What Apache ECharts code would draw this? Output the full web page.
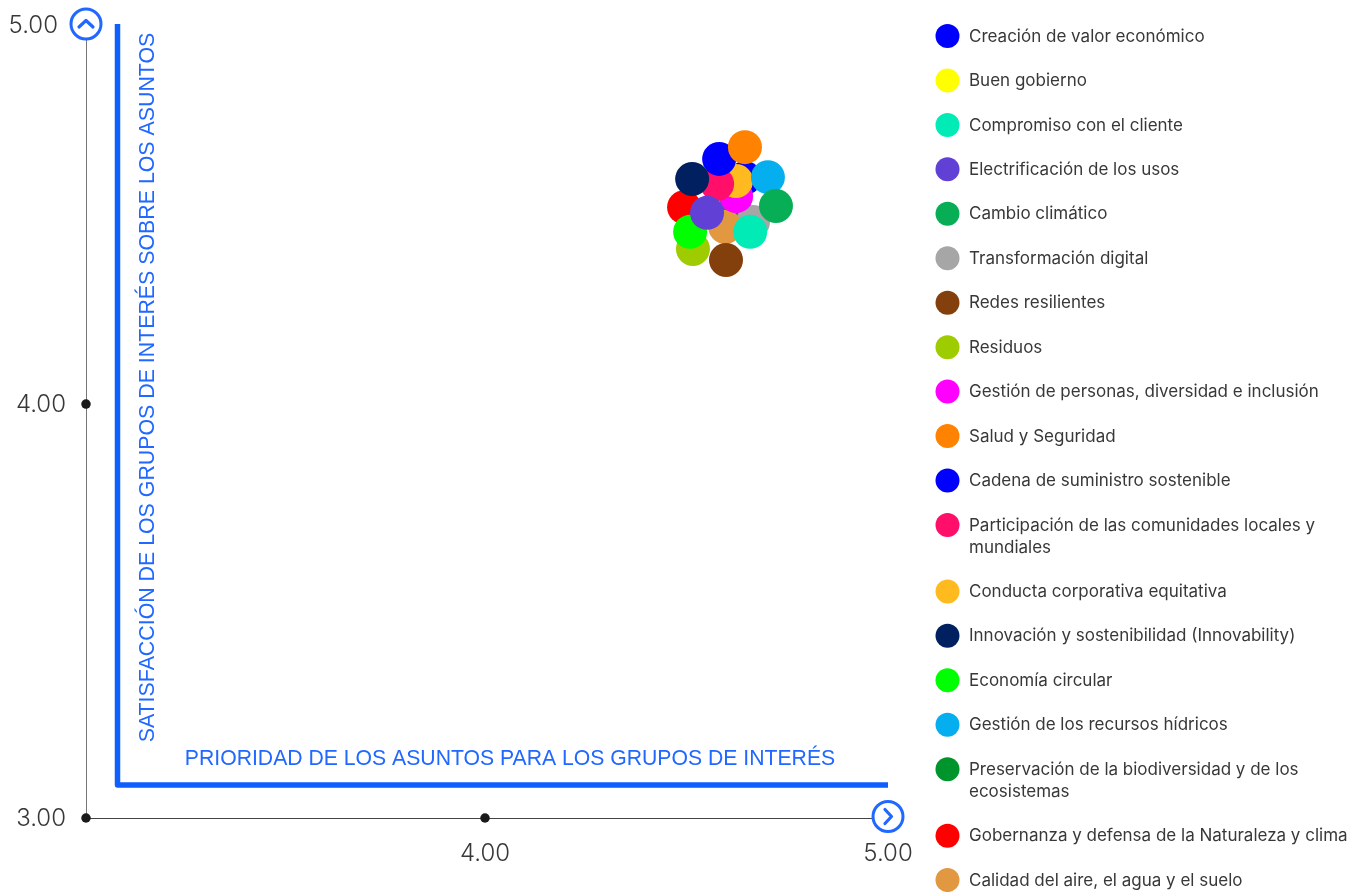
<!DOCTYPE html>
<html>
<head>
<meta charset="utf-8">
<style>
  html, body { margin: 0; padding: 0; background: #fff; }
  #chart { width: 1363px; height: 892px; }
</style>
<script src="https://cdn.jsdelivr.net/npm/echarts@6/dist/echarts.min.js"></script>
</head>
<body>
<div id="chart"></div>
<script>
const issues = [
  'Creación de valor económico', 'Buen gobierno', 'Compromiso con el cliente',
  'Electrificación de los usos', 'Cambio climático', 'Transformación digital',
  'Redes resilientes', 'Residuos', 'Gestión de personas, diversidad e inclusión',
  'Salud y Seguridad', 'Cadena de suministro sostenible',
  'Participación de las comunidades locales y\nmundiales', 'Conducta corporativa equitativa',
  'Innovación y sostenibilidad (Innovability)', 'Economía circular',
  'Gestión de los recursos hídricos', 'Preservación de la biodiversidad y de los\necosistemas',
  'Gobernanza y defensa de la Naturaleza y clima', 'Calidad del aire, el agua y el suelo'
]
const priority = [4.581, 4.593, 4.658, 4.551, 4.722, 4.665, 4.598, 4.516, 4.623, 4.645, 4.645, 4.576, 4.623, 4.514, 4.509, 4.702, 4.620, 4.494, 4.596]
const satisfaction = [4.645, 4.516, 4.453, 4.503, 4.521, 4.479, 4.379, 4.408, 4.547, 4.676, 4.595, 4.579, 4.587, 4.592, 4.453, 4.597, 4.511, 4.518, 4.466]
const colors = [
  '#0000ff', '#ffff00', '#00ebb5', '#6140d6', '#07ae56', '#a6a6a6', '#84400c', '#9fcc00', '#ff00ff',
  '#ff8200', '#0000ff', '#ff0f6a', '#ffba20', '#002060', '#00ff00', '#05afef', '#00942c', '#ff0000', '#e29840'
]
// indices into issues, bottom circle first
const drawOrder = [1, 16, 10, 5, 18, 8, 12, 15, 4, 17, 11, 0, 9, 13, 7, 14, 2, 3, 6]

const xTicks = [4, 5]
const yTicks = [3, 4, 5]
const tickDots = [[3, 3], [4, 3], [3, 4]]
const xTitle = 'PRIORIDAD DE LOS ASUNTOS PARA LOS GRUPOS DE INTERÉS'
const yTitle = 'SATISFACCIÓN DE LOS GRUPOS DE INTERÉS SOBRE LOS ASUNTOS'

// the axes of the picture are not even: the unit above 4 has another length than the one below
const xUpperStretch = 1.01
const yUpperStretch = 0.918
const xSpace = v => (v <= 4 ? v - 3 : 1 + (v - 4) * xUpperStretch)
const ySpace = v => (v <= 4 ? v - 3 : 1 + (v - 4) * yUpperStretch)

const BLUE = '#2068ff'
const TEXT = '#383838'
const chart = echarts.init(document.getElementById('chart'))

const series = issues.map((name, i) => ({
  name,
  type: 'scatter',
  symbolSize: 34,
  z: 3 + drawOrder.indexOf(i),
  clip: false,
  itemStyle: { color: colors[i], opacity: 1 },
  data: [[xSpace(priority[i]), ySpace(satisfaction[i])]]
}))

series.push({
  name: 'ticks',
  type: 'scatter',
  symbolSize: 9.5,
  z: 2,
  silent: true,
  clip: false,
  itemStyle: { color: '#1a1a1a', opacity: 1 },
  data: tickDots.map(d => [xSpace(d[0]), ySpace(d[1])])
})

// legend rows, wrapped names take one more line
const legendItems = []
let rowY = 36
issues.forEach((name, i) => {
  legendItems.push({
    type: 'circle',
    shape: { cx: 947.5, cy: rowY, r: 12 },
    style: { fill: colors[i] }
  })
  legendItems.push({
    type: 'text',
    x: 969,
    y: rowY - 10.5,
    style: {
      text: name,
      fill: TEXT,
      font: '17px Inter',
      lineHeight: 22,
      verticalAlign: 'top'
    }
  })
  rowY += 44.45 + (name.includes('\n') ? 22 : 0)
})

function badge(cx, cy, points) {
  return [
    { type: 'circle', z: 40, shape: { cx, cy, r: 15 }, style: { fill: '#fff', stroke: BLUE, lineWidth: 3 } },
    {
      type: 'polyline', z: 41,
      shape: { points: points.map(p => [cx + p[0], cy + p[1]]) },
      style: { stroke: BLUE, lineWidth: 3.2, fill: null, lineCap: 'round', lineJoin: 'round' }
    }
  ]
}

chart.setOption({
  animation: false,
  grid: { left: 86, right: 475, top: 24, bottom: 74 },
  tooltip: {
    trigger: 'item',
    formatter: p => `${p.seriesName.replace('\n', ' ')}`
  },
  xAxis: {
    type: 'value',
    min: xSpace(3),
    max: xSpace(5),
    splitLine: { show: false },
    axisLine: { lineStyle: { color: '#444', width: 1 } },
    axisTick: { show: false },
    axisLabel: {
      customValues: xTicks.map(xSpace),
      margin: 24,
      color: TEXT,
      fontFamily: 'Inter',
      fontWeight: 300,
      fontSize: 24,
      formatter: v => xTicks[xTicks.map(xSpace).indexOf(v)].toFixed(2)
    },
    name: xTitle,
    nameLocation: 'middle',
    nameGap: -69,
    nameTextStyle: {
      color: BLUE,
      fontFamily: 'Liberation Sans',
      fontSize: 21.2,
      padding: [0, 0, 0, 46]
    }
  },
  yAxis: {
    type: 'value',
    min: ySpace(yTicks[0]),
    max: ySpace(yTicks[2]),
    splitLine: { show: false },
    axisLine: { lineStyle: { color: '#777', width: 1 } },
    axisTick: { show: false },
    axisLabel: {
      customValues: yTicks.map(ySpace),
      margin: 20,
      padding: [2, 0, 0, 0],
      color: TEXT,
      fontFamily: 'Inter',
      fontWeight: 300,
      fontSize: 24,
      formatter: v => {
        const label = yTicks[yTicks.map(ySpace).indexOf(v)].toFixed(2)
        return v === ySpace(5) ? `{top|${label}}` : label
      },
      rich: {
        top: { color: TEXT, fontFamily: 'Inter', fontWeight: 300, fontSize: 24, padding: [2, 8, 0, 0] }
      }
    },
    name: yTitle,
    nameLocation: 'middle',
    nameRotate: 90,
    nameGap: -73,
    nameTextStyle: {
      color: BLUE,
      fontFamily: 'Liberation Sans',
      fontSize: 21.35,
      padding: [0, 0, 0, 67]
    }
  },
  graphic: [
    {
      type: 'polyline',
      z: 1,
      shape: { points: [[117.5, 24], [117.5, 785], [888, 785]] },
      style: { stroke: '#0f5fff', lineWidth: 5.5, fill: null, lineJoin: 'round' }
    },
    ...badge(86, 24, [[-7, 3], [0, -3.5], [7, 3]]),
    ...badge(888, 816.5, [[-3, -7], [3.5, 0], [-3, 7]]),
    ...legendItems
  ],
  series
})

window.addEventListener('resize', () => chart.resize())
</script>
</body>
</html>
